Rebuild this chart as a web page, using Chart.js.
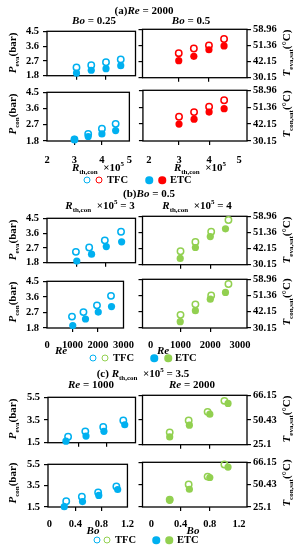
<!DOCTYPE html>
<html lang="en">
<head>
<meta charset="UTF-8">
<title>TFC vs ETC pressures</title>
<script src="https://cdn.jsdelivr.net/npm/chart.js"></script>
<style>
  body { margin:0; width:295px; height:550px; position:relative; background:#fff; overflow:hidden;
         font-family:"Liberation Serif", "Times New Roman", serif; font-weight:bold; color:#000; }
  canvas { position:absolute; }
  .t { position:absolute; white-space:nowrap; font-size:11px; line-height:1; transform:translate(-50%,-50%); }
  .yt { position:absolute; white-space:nowrap; font-size:11px; line-height:1; transform:translate(-50%,-50%) rotate(-90deg); }
  .lt { position:absolute; white-space:nowrap; font-size:10.5px; line-height:1; transform:translateY(-50%); }
  sub, sup { font-size:7px; line-height:0; }
  .dot { position:absolute; border-radius:50%; box-sizing:border-box; transform:translate(-50%,-50%); }
</style>
</head>
<body>
<script>
// colours
const BLUE = '#00b0f0', RED = '#ff0000', GREEN = '#92d050';

// (a) Re = 2000, x = Rth,con x 10^5
const rth = [3, 3.5, 4, 4.5];
const rthTicks = [2, 3, 4, 5];
const aEvaTfc025 = [2.30, 2.44, 2.62, 2.79];
const aEvaEtc025 = [1.96, 2.13, 2.23, 2.41];
const aEvaTfc05 = [3.17, 3.43, 3.60, 3.96];
const aEvaEtc05 = [2.75, 2.99, 3.36, 3.57];
const aConTfc025 = [1.88, 2.19, 2.48, 2.75];
const aConEtc025 = [1.89, 2.05, 2.19, 2.38];
const aConTfc05 = [3.09, 3.34, 3.63, 3.97];
const aConEtc05 = [2.70, 2.96, 3.34, 3.52];

// (b) Bo = 0.5, x = Re
const reTicks = [0, 1000, 2000, 3000];
const reTfcL = [980, 1430, 1960, 2510];
const reEtcL = [1010, 1510, 2010, 2530];
const reTfcR = [1000, 1500, 2030, 2610];
const reEtcR = [990, 1500, 2000, 2510];
const bEvaTfc3 = [2.46, 2.72, 3.16, 3.68];
const bEvaEtc3 = [1.90, 2.32, 2.78, 3.07];
const bEvaTfc4 = [2.55, 3.07, 3.64, 4.29];
const bEvaEtc4 = [2.15, 2.76, 3.37, 3.80];
const bConTfc3 = [2.46, 2.72, 3.11, 3.66];
const bConEtc3 = [1.94, 2.32, 2.72, 3.04];
const bConTfc4 = [2.53, 3.11, 3.60, 4.24];
const bConEtc4 = [2.15, 2.76, 3.40, 3.77];

// (c) Rth,con x 10^5 = 3.5, x = Bo
const boTicks = [0, 0.4, 0.8, 1.2];
const boTfcL = [0.26, 0.50, 0.75, 1.03];
const boEtcL = [0.23, 0.51, 0.76, 1.05];
const boTfcR = [0.25, 0.51, 0.77, 1.00];
const boEtcR = [0.25, 0.52, 0.80, 1.05];
const cEvaTfc1000 = [2.03, 2.50, 2.88, 3.46];
const cEvaEtc1000 = [1.63, 2.08, 2.50, 3.08];
const cEvaTfc2000 = [2.50, 3.46, 4.16, 5.05];
const cEvaEtc2000 = [2.13, 3.08, 3.97, 4.84];
const cConTfc1000 = [2.04, 2.46, 2.86, 3.43];
const cConEtc1000 = [1.53, 2.01, 2.58, 3.14];
const cConTfc2000 = [2.16, 3.52, 4.22, 5.30];
const cConEtc2000 = [2.10, 3.09, 4.14, 5.07];

// pressure ticks and the matching saturation temperatures
const pTicksAB = [1.8, 2.7, 3.6, 4.5];
const tLabelsAB = ['30.15', '42.15', '51.36', '58.96'];
const pTicksC = [1.5, 3.5, 5.5];
const tLabelsC = ['25.1', '50.43', '66.15'];

const tickFont = { family: 'Liberation Serif', weight: 'bold', size: 10.5 };

const frame = {
    id: 'frame',
    beforeDatasetsDraw(chart) {
        const a = chart.chartArea, ctx = chart.ctx;
        ctx.save();
        ctx.strokeStyle = '#000';
        ctx.lineWidth = 1.3;
        ctx.strokeRect(a.left, a.top, a.right - a.left, a.bottom - a.top);
        ctx.restore();
    }
};

function pts(xs, ys) { return xs.map((x, i) => ({ x: x, y: ys[i] })); }

function openSet(xs, ys, color, order) {
    return { data: pts(xs, ys), pointRadius: 3.2, borderWidth: 1.5, borderColor: color,
             backgroundColor: order === 0 ? 'rgba(255,255,255,0)' : '#fff', clip: false, order: order };
}
function fillSet(xs, ys, color, order) {
    return { data: pts(xs, ys), pointRadius: 3.6, borderWidth: 0, borderColor: color,
             backgroundColor: color, clip: false, order: order };
}

// box = [left, top, right, bottom] of the plot area in page pixels
function panel(box, side, xs, ys, datasets) {
    const [l, t, r, b] = box;
    const xh = xs.labels ? 26 : 7;
    const cl = side === 'L' ? 0 : l - 5;
    const cw = side === 'L' ? r + 3 : 295 - cl;
    const ch = (b - t) + 6 + xh;
    const cv = document.createElement('canvas');
    cv.width = cw; cv.height = ch;
    cv.style.left = cl + 'px'; cv.style.top = (t - 6) + 'px';
    cv.style.width = cw + 'px'; cv.style.height = ch + 'px';
    document.body.appendChild(cv);

    const last = xs.ticks.length - 1;
    const scales = {
        x: {
            type: 'linear', min: xs.min, max: xs.max,
            afterBuildTicks: s => { s.ticks = xs.ticks.map(v => ({ value: v })); },
            afterFit: s => { s.height = xh; },
            grid: { drawOnChartArea: false, tickLength: 4, lineWidth: 1.2,
                    color: c => (c.index === 0 || c.index === last) ? 'rgba(0,0,0,0)' : '#000' },
            border: { display: false },
            ticks: { display: !!xs.labels, padding: xs.pad || 7, font: tickFont, color: '#000',
                     maxRotation: 0, autoSkip: false, callback: (v, i) => String(xs.ticks[i]) }
        },
        y: {
            position: side === 'L' ? 'left' : 'right', min: ys.ticks[0], max: ys.ticks[ys.ticks.length - 1],
            afterBuildTicks: s => { s.ticks = ys.ticks.map(v => ({ value: v })); },
            afterFit: s => { s.width = side === 'L' ? l : 295 - r; },
            grid: { drawOnChartArea: false, tickLength: 4, lineWidth: 1.2, color: '#000' },
            border: { display: false },
            ticks: { padding: side === 'L' ? 4 : 2, font: tickFont, color: '#000', autoSkip: false,
                     callback: (v, i) => ys.labels[i] }
        }
    };
    if (side === 'R') {
        scales.yl = {
            position: 'left', min: ys.ticks[0], max: ys.ticks[ys.ticks.length - 1],
            afterBuildTicks: s => { s.ticks = ys.ticks.map(v => ({ value: v })); },
            afterFit: s => { s.width = 5; },
            grid: { drawOnChartArea: false, tickLength: 4, lineWidth: 1.2, color: '#000' },
            border: { display: false },
            ticks: { display: false }
        };
    }
    new Chart(cv, {
        type: 'scatter',
        data: { datasets: datasets },
        options: {
            responsive: false, animation: false,
            layout: { padding: { top: 6, right: side === 'L' ? 3 : 0, left: 0, bottom: 0 } },
            scales: scales,
            plugins: { legend: { display: false }, tooltip: { enabled: false } }
        },
        plugins: [frame]
    });
}

const yAB_L = { ticks: pTicksAB, labels: pTicksAB.map(String) };
const yAB_R = { ticks: pTicksAB, labels: tLabelsAB };
const yC_L = { ticks: pTicksC, labels: pTicksC.map(String) };
const yC_R = { ticks: pTicksC, labels: tLabelsC };

const xA_L = { min: 2, max: 5, ticks: rthTicks };
const xA_R = { min: 1.8, max: 5.26, ticks: rthTicks };
const xB_L = { min: 0, max: 3000, ticks: reTicks };
const xB_R = { min: -277, max: 3233, ticks: reTicks };
const xC_L = { min: -0.02, max: 1.2, ticks: boTicks };
const xC_R = { min: -0.123, max: 1.31, ticks: boTicks };
const lab = (o, pad) => Object.assign({}, o, { labels: true, pad: pad });

// (a)
panel([47, 27, 138, 79], 'L', xA_L, yAB_L, [fillSet(rth, aEvaEtc025, BLUE, 0), openSet(rth, aEvaTfc025, BLUE, 1)]);
panel([142, 27, 247, 79], 'R', xA_R, yAB_R, [fillSet(rth, aEvaEtc05, RED, 0), openSet(rth, aEvaTfc05, RED, 1)]);
panel([47, 88, 138, 141], 'L', lab(xA_L, 9), yAB_L, [fillSet(rth, aConEtc025, BLUE, 0), openSet(rth, aConTfc025, BLUE, 1)]);
panel([142, 88, 247, 141], 'R', lab(xA_R, 9), yAB_R, [fillSet(rth, aConEtc05, RED, 0), openSet(rth, aConTfc05, RED, 1)]);
// (b)
panel([47, 214, 138, 266], 'L', xB_L, yAB_L, [fillSet(reEtcL, bEvaEtc3, BLUE, 0), openSet(reTfcL, bEvaTfc3, BLUE, 1)]);
panel([142, 214, 247, 266], 'R', xB_R, yAB_R, [fillSet(reEtcR, bEvaEtc4, GREEN, 0), openSet(reTfcR, bEvaTfc4, GREEN, 1)]);
panel([47, 277, 138, 328], 'L', lab(xB_L, 7), yAB_L, [fillSet(reEtcL, bConEtc3, BLUE, 0), openSet(reTfcL, bConTfc3, BLUE, 1)]);
panel([142, 277, 247, 328], 'R', lab(xB_R, 7), yAB_R, [fillSet(reEtcR, bConEtc4, GREEN, 0), openSet(reTfcR, bConTfc4, GREEN, 1)]);
// (c)
panel([48, 393, 138, 446], 'L', xC_L, yC_L, [fillSet(boEtcL, cEvaEtc1000, BLUE, 1), openSet(boTfcL, cEvaTfc1000, BLUE, 0)]);
panel([142, 393, 247, 446], 'R', xC_R, yC_R, [fillSet(boEtcR, cEvaEtc2000, GREEN, 1), openSet(boTfcR, cEvaTfc2000, GREEN, 0)]);
panel([48, 460, 138, 507], 'L', lab(xC_L, 7), yC_L, [fillSet(boEtcL, cConEtc1000, BLUE, 1), openSet(boTfcL, cConTfc1000, BLUE, 0)]);
panel([142, 460, 247, 507], 'R', lab(xC_R, 7), yC_R, [fillSet(boEtcR, cConEtc2000, GREEN, 1), openSet(boTfcR, cConTfc2000, GREEN, 0)]);

// text
function txt(html, x, y, cls) {
    const d = document.createElement('div');
    d.className = cls || 't';
    d.innerHTML = html;
    d.style.left = x + 'px'; d.style.top = y + 'px';
    document.body.appendChild(d);
}
function dot(x, y, color, open) {
    const d = document.createElement('div');
    d.className = 'dot';
    const s = open ? 7 : 7.5;
    d.style.width = s + 'px'; d.style.height = s + 'px';
    d.style.left = x + 'px'; d.style.top = y + 'px';
    if (open) { d.style.border = '1.5px solid ' + color; d.style.background = '#fff'; }
    else d.style.background = color;
    document.body.appendChild(d);
}
function legend(y, c2, xs) {
    dot(xs[0], y, BLUE, true); dot(xs[1], y, c2, true); txt('TFC', xs[2], y, 'lt');
    dot(xs[3], y, BLUE, false); dot(xs[4], y, c2, false); txt('ETC', xs[5], y, 'lt');
}
const rthLabel = '<i>R</i><sub>th,con</sub>&nbsp;&nbsp;×10<sup>5</sup>';

txt('(a)<i>Re</i> = 2000', 144, 10);
txt('<i>Bo</i> = 0.25', 94, 20);
txt('<i>Bo</i> = 0.5', 191, 20);
txt(rthLabel, 98, 167);
txt(rthLabel, 200, 167);
legend(180, RED, [87, 99, 107, 149, 162, 170]);

txt('(b)<i>Bo</i> = 0.5', 149, 193);
txt(rthLabel + ' = 3', 100, 205);
txt(rthLabel + ' = 4', 197, 205);
txt('<i>Re</i>', 61, 350);
txt('<i>Re</i>', 163, 350);
legend(358, GREEN, [93, 105, 113, 154, 168, 175]);

txt('(c) ' + rthLabel + ' = 3.5', 143, 373);
txt('<i>Re</i> = 1000', 91, 384);
txt('<i>Re</i> = 2000', 192, 384);
txt('<i>Bo</i>', 93, 530);
txt('<i>Bo</i>', 193, 530);
legend(540, GREEN, [97, 107, 115, 156, 169, 177]);

const pEva = '<i>P</i><sub>eva</sub>(bar)', pCon = '<i>P</i><sub>con</sub>(bar)';
const tEva = '<i>T</i><sub>eva,sat</sub>(°C)', tCon = '<i>T</i><sub>con,sat</sub>(°C)';
[[53, pEva, tEva], [114, pCon, tCon], [240, pEva, tEva], [302, pCon, tCon], [419, pEva, tEva], [483, pCon, tCon]]
    .forEach(([y, lp, rp]) => { txt(lp, 12, y, 'yt'); txt(rp, 286, y, 'yt'); });
</script>
</body>
</html>
